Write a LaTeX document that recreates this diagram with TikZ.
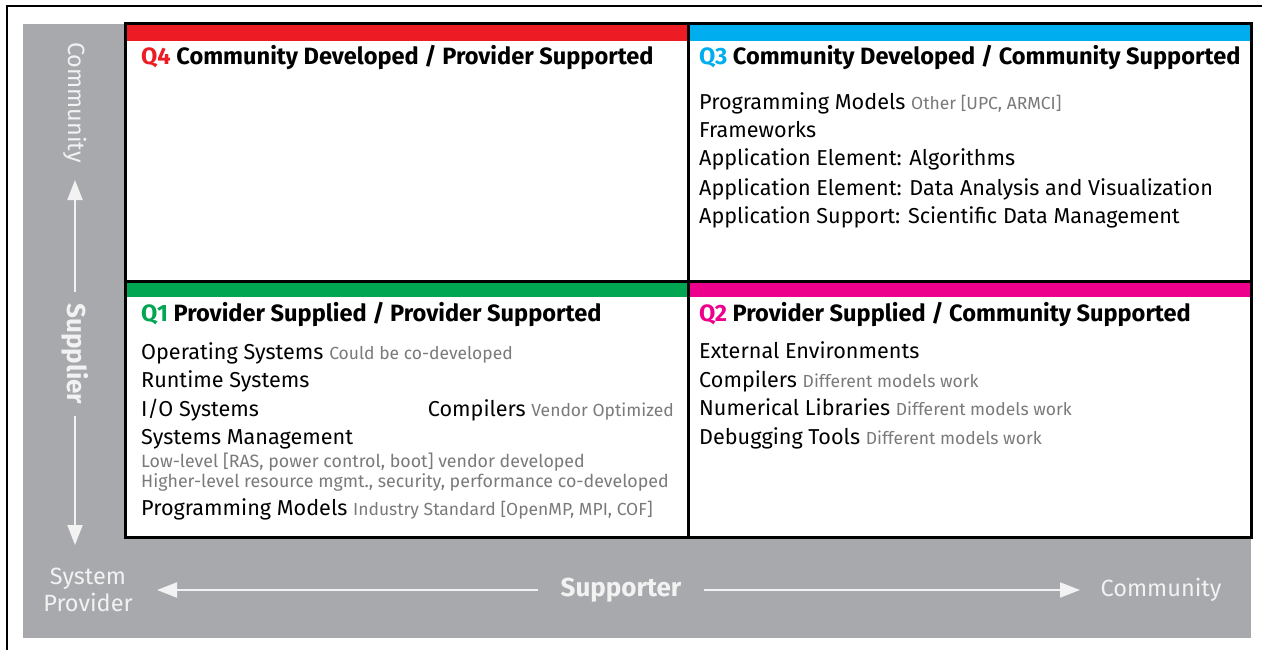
\documentclass[tikz,border=0pt]{standalone}
\usepackage{fontspec}
\setmainfont{Fira Sans}
\usetikzlibrary{arrows.meta,positioning}

\definecolor{qred}{HTML}{ED1C24}
\definecolor{qcyan}{HTML}{00AEEF}
\definecolor{qgreen}{HTML}{00A651}
\definecolor{qmagenta}{HTML}{EC008C}
\definecolor{panelgray}{HTML}{A7A9AC}
\definecolor{notegray}{HTML}{7A7A7A}
\definecolor{axistext}{HTML}{F2F2F2}

\newcommand{\nt}[1]{{\fontsize{17.5}{17.5}\selectfont\color{notegray}#1}}

\begin{document}
\begin{tikzpicture} [
    x=1pt, y=-1pt,
    quad/.style     = { draw=black, line width=3pt },
    bar/.style      = { fill=#1, draw=none },
    title/.style    = { anchor=base west, inner sep=0pt,
                        font=\fontsize{23.6}{23.6}\selectfont\bfseries },
    item/.style     = { anchor=base west, inner sep=0pt,
                        font=\fontsize{21.6}{21.6}\selectfont },
    small/.style    = { anchor=base west, inner sep=0pt, text=notegray,
                        font=\fontsize{17.8}{17.8}\selectfont },
    axis/.style     = { text=axistext, font=\fontsize{23.5}{27}\selectfont },
    axisbold/.style = { axis, font=\fontsize{26}{26}\selectfont\bfseries },
    axarrow/.style  = { draw=axistext, line width=2pt,
                        -{Triangle[width=15pt,length=20pt]} },
  ]

  \useasboundingbox (0,0) rectangle (1264,650);

  % frame and grey panel
  \draw[line width=2pt] (7,650) -- (7,6) -- (1262,6);
  \fill[panelgray] (23,24) rectangle (1251,638);
  \fill[white] (125,24) rectangle (1251,537);

  % colour bars
  \fill[bar=qred]     (125,24)  rectangle (688,41);
  \fill[bar=qcyan]    (688,24)  rectangle (1251,41);
  \fill[bar=qgreen]   (125,281) rectangle (688,297);
  \fill[bar=qmagenta] (688,281) rectangle (1251,297);

  % quadrant grid
  \draw[quad] (125,24) rectangle (1251,537);
  \draw[quad] (688,24) -- (688,537);
  \draw[quad] (125,281) -- (1251,281);

  % titles
  \node[title] (q4) at (141,65)  {\textcolor{qred}{Q4} Community Developed / Provider Supported};
  \node[title] (q3) at (699,65)  {\textcolor{qcyan}{Q3} Community Developed / Community Supported};
  \node[title] (q1) at (141,321) {\textcolor{qgreen}{Q1} Provider Supplied / Provider Supported};
  \node[title] (q2) at (699,321) {\textcolor{qmagenta}{Q2} Provider Supplied / Community Supported};

  % Q3 items
  \node[item] (q3a) at (699,110) {Programming Models \nt{Other [UPC, ARMCI]}};
  \node[item] (q3b) at (699,138) {Frameworks};
  \node[item] (q3c) at (699,166) {Application Element: Algorithms};
  \node[item] (q3d) at (699,195) {Application Element: Data Analysis and Visualization};
  \node[item] (q3e) at (699,223) {Application Support: Scientific Data Management};

  % Q1 items
  \node[item] (q1a) at (141,359) {Operating Systems \nt{Could be co-developed}};
  \node[item] (q1b) at (141,387) {Runtime Systems};
  \node[item] (q1c) at (141,416) {I/O Systems};
  \node[item, anchor=base east] (q1d) at (674,416) {Compilers \nt{Vendor Optimized}};
  \node[item] (q1e) at (141,444) {Systems Management};
  \node[small] (q1f) at (141,467) {Low-level [RAS, power control, boot] vendor developed};
  \node[small] (q1g) at (141,487) {Higher-level resource mgmt., security, performance co-developed};
  \node[item] (q1h) at (141,515) {Programming Models \nt{Industry Standard [OpenMP, MPI, COF]}};

  % Q2 items
  \node[item] (q2a) at (699,358) {External Environments};
  \node[item] (q2b) at (699,387) {Compilers \nt{Different models work}};
  \node[item] (q2c) at (699,415) {Numerical Libraries \nt{Different models work}};
  \node[item] (q2d) at (699,444) {Debugging Tools \nt{Different models work}};

  % vertical axis
  \node[axis, rotate=-90, anchor=west, inner sep=0pt] (vcomm) at (75,42) {Community};
  \node[axisbold, rotate=-90, inner xsep=11pt] (supplier) at (75,354) {Supplier};
  \coordinate (uptip) at (75,180);
  \coordinate (downtip) at (75,545);
  \draw[axarrow] (supplier.west) -- (uptip);
  \draw[axarrow] (supplier.east) -- (downtip);

  % horizontal axis
  \node[axis, align=center] (sysprov) at (88,590) {System\\Provider};
  \node[axis] (hcomm) at (1161,590) {Community};
  \node[axisbold, inner xsep=22pt] (supporter) at (621,590) {Supporter};
  \coordinate (lefttip) at (157,590);
  \coordinate (righttip) at (1080,590);
  \draw[axarrow] (supporter.west) -- (lefttip);
  \draw[axarrow] (supporter.east) -- (righttip);
\end{tikzpicture}
\end{document}
